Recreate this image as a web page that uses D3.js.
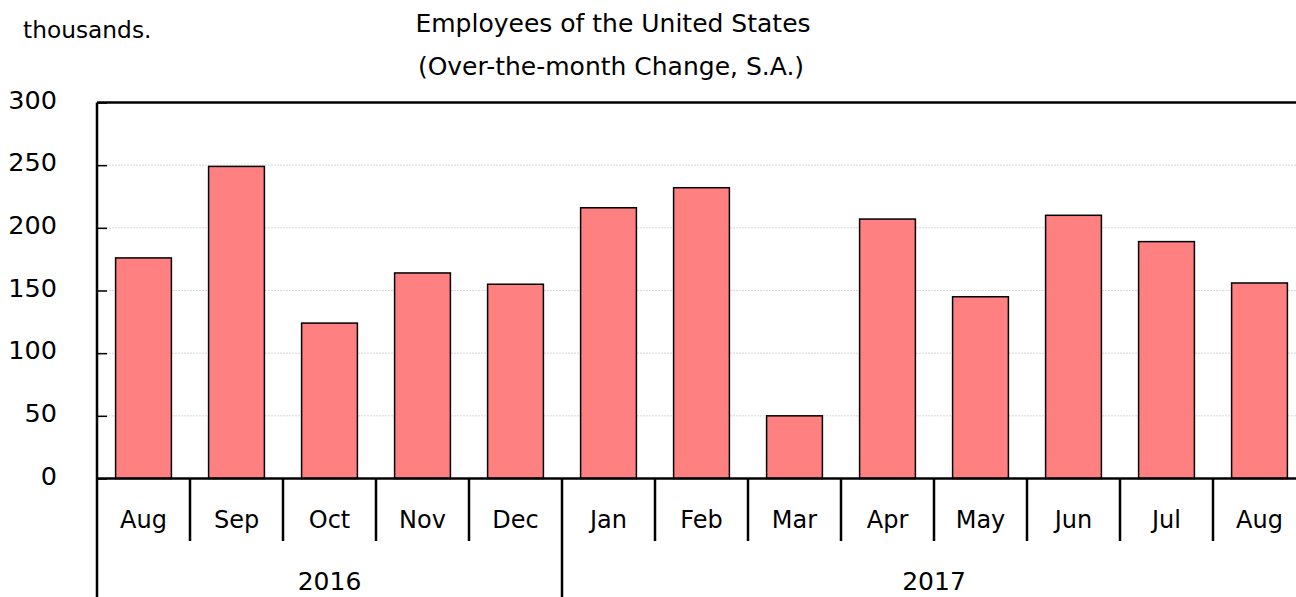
<!DOCTYPE html>
<html>
<head>
<meta charset="utf-8">
<script src="https://cdn.jsdelivr.net/npm/d3@7"></script>
<style>
  body { margin: 0; background: #fff; }
  svg text { font-family: "DejaVu Sans", sans-serif; font-size: 22px; fill: #000; }
  .grid line { stroke: #d9d9d9; stroke-dasharray: 2,1; }
</style>
</head>
<body>
<div id="chart"></div>
<script>
// over-the-month change, thousands
var months = ["Aug", "Sep", "Oct", "Nov", "Dec", "Jan", "Feb", "Mar", "Apr", "May", "Jun", "Jul", "Aug"];
var years = ["2016", "2016", "2016", "2016", "2016", "2017", "2017", "2017", "2017", "2017", "2017", "2017", "2017"];
var values = [176, 249, 124, 164, 155, 216, 232, 50, 207, 145, 210, 189, 156];
var yTicks = [0, 50, 100, 150, 200, 250, 300];

var width = 1296, height = 597;
var plotLeft = 97, plotRight = 1306, plotTop = 102.5, plotBottom = 478.5;

var svg = d3.select("#chart").append("svg")
    .attr("width", width)
    .attr("height", height);

var keys = months.map(function(m, i) { return i; });

var xb = d3.scaleBand().domain(keys).range([plotLeft, plotRight]);
var y = d3.scaleLinear().domain([0, 300]).range([plotBottom, plotTop]);

// gridlines
svg.append("g")
    .attr("class", "grid")
    .selectAll("line")
    .data(yTicks.filter(function(d) { return d > 0 && d < 300; }))
    .enter().append("line")
    .attr("x1", plotLeft)
    .attr("x2", plotRight)
    .attr("y1", function(d) { return y(d); })
    .attr("y2", function(d) { return y(d); });

// bars
var barW = xb.bandwidth() * 0.6;
svg.append("g")
    .selectAll("rect")
    .data(values)
    .enter().append("rect")
    .attr("x", function(d, i) { return xb(i) + (xb.bandwidth() - barW) / 2; })
    .attr("width", barW)
    .attr("y", function(d) { return y(d); })
    .attr("height", function(d) { return y(0) - y(d); })
    .attr("fill", "#ff8080")
    .attr("stroke", "#000")
    .attr("stroke-width", 1.5);

// y axis
var yAxis = d3.axisLeft(y).tickValues(yTicks).tickSize(-10).tickPadding(40);
var ya = svg.append("g")
    .attr("transform", "translate(" + plotLeft + ",0)")
    .call(yAxis);
ya.select(".domain").remove();
ya.selectAll(".tick line").attr("stroke", "#000").attr("stroke-width", 1.5);
ya.selectAll(".tick text")
    .attr("dy", "0.22em")
    .style("font-size", "25.5px");

// frame: left, top, bottom
svg.append("line").attr("x1", plotLeft).attr("x2", plotLeft).attr("y1", plotTop).attr("y2", height)
    .attr("stroke", "#000").attr("stroke-width", 2.5);
svg.append("line").attr("x1", plotLeft).attr("x2", plotRight).attr("y1", plotTop).attr("y2", plotTop)
    .attr("stroke", "#000").attr("stroke-width", 2.5);
svg.append("line").attr("x1", plotLeft).attr("x2", plotRight).attr("y1", plotBottom).attr("y2", plotBottom)
    .attr("stroke", "#000").attr("stroke-width", 2.5);

// month category axis
var xAxis = d3.axisBottom(xb).tickSize(0).tickFormat(function(i) { return months[i]; }).tickPadding(0);
var xa = svg.append("g")
    .attr("transform", "translate(0," + plotBottom + ")")
    .call(xAxis);
xa.select(".domain").remove();
xa.selectAll(".tick text").attr("y", 49.5).attr("dy", 0).style("font-size", "24px");

// separators between months
svg.append("g")
    .selectAll("line")
    .data(keys.slice(1))
    .enter().append("line")
    .attr("x1", function(i) { return xb(i); })
    .attr("x2", function(i) { return xb(i); })
    .attr("y1", plotBottom)
    .attr("y2", function(i) { return years[i] !== years[i - 1] ? height : 541; })
    .attr("stroke", "#000")
    .attr("stroke-width", 2.5);

// year labels
var yearNames = ["2016", "2017"];
svg.append("g")
    .selectAll("text")
    .data(yearNames)
    .enter().append("text")
    .attr("x", function(yr) {
      var idx = keys.filter(function(i) { return years[i] === yr; });
      return (xb(idx[0]) + xb(idx[idx.length - 1]) + xb.bandwidth()) / 2;
    })
    .attr("y", 590)
    .attr("text-anchor", "middle")
    .style("font-size", "25px")
    .text(function(d) { return d; });

// titles
svg.append("text").attr("x", 613).attr("y", 32).attr("text-anchor", "middle")
    .style("font-size", "25px")
    .text("Employees of the United States");
svg.append("text").attr("x", 611).attr("y", 75).attr("text-anchor", "middle")
    .style("font-size", "25px")
    .text("(Over-the-month Change, S.A.)");
svg.append("text").attr("x", 23).attr("y", 38)
    .style("font-size", "23.3px")
    .text("thousands.");
</script>
</body>
</html>
